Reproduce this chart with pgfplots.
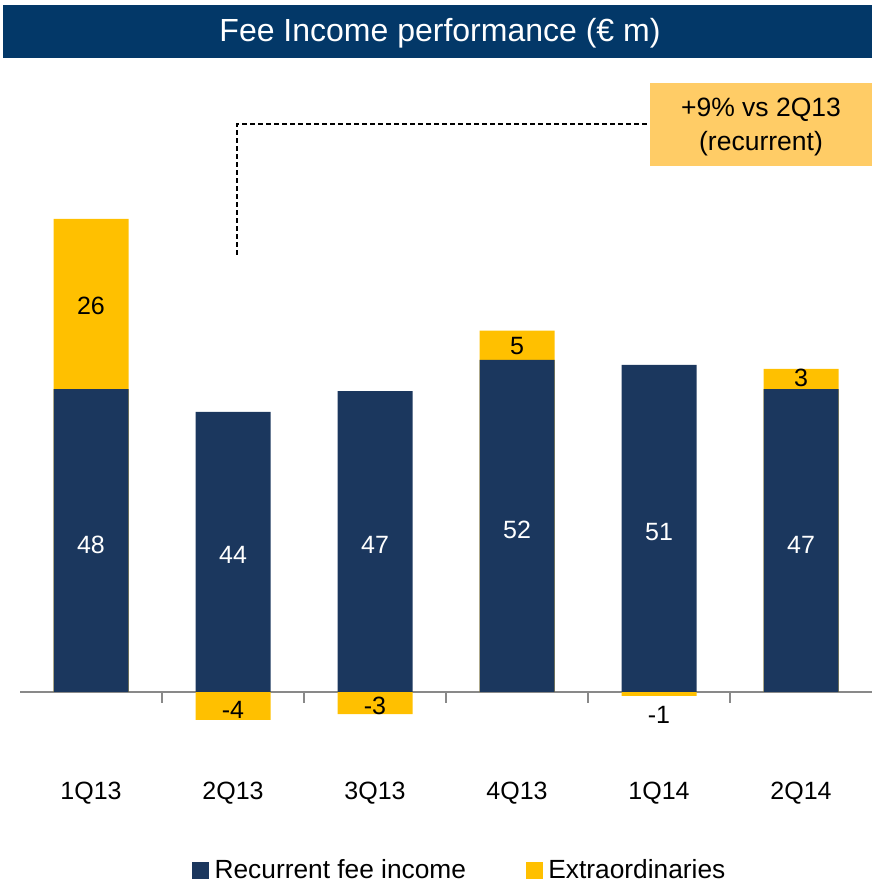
\documentclass[border=0pt]{standalone}
\usepackage{fontspec}
\setmainfont{Liberation Sans}
\usepackage{pgfplots}
\pgfplotsset{compat=1.18}
\definecolor{titleblue}{HTML}{033868}
\definecolor{barnavy}{HTML}{1B375E}
\definecolor{barylw}{HTML}{FFC000}
\definecolor{boxylw}{HTML}{FFCC66}
\definecolor{axgray}{HTML}{898989}
\begin{document}
\begin{tikzpicture}[x=1bp,y=1bp]
\useasboundingbox (0,0) rectangle (872,882);
% title bar
\fill[titleblue] (3,824) rectangle (872,877);
\node[white, font=\fontsize{32bp}{38bp}\selectfont] at (440,849) {Fee Income performance (€ m)};
% annotation box
\fill[boxylw] (650,716) rectangle (872,799);
\node[align=center, font=\fontsize{26.5bp}{34bp}\selectfont] at (761,755) {+9\% vs 2Q13\\(recurrent)};
\draw[black, line width=1.3bp, dash pattern=on 5bp off 3bp] (237,627) -- (237,758) -- (650,758);
\begin{axis}[
  at={(91bp,190bp)}, anchor=origin,
  scale only axis, width=852bp, height=571.5bp,
  xmin=-0.5, xmax=5.5, ymin=-10, ymax=80,
  clip=false,
  hide y axis,
  axis x line=middle,
  x axis line style={draw=axgray, line width=2bp, -},
  xtick={-0.5,0.5,1.5,2.5,3.5,4.5,5.5},
  xticklabels={,,,,,,},
  tick align=outside,
  major tick length=11bp,
  tick style={draw=axgray, line width=1.6bp},
  extra x ticks={0,1,2,3,4,5},
  extra x tick labels={1Q13,2Q13,3Q13,4Q13,1Q14,2Q14},
  extra x tick style={major tick length=0pt},
  xticklabel style={font=\fontsize{25bp}{30bp}\selectfont, anchor=center, yshift=-101bp},
  legend columns=2,
  legend style={at={(axis description cs:0.2019,-0.221)}, anchor=south west, draw=none, fill=none,
    font=\fontsize{26.3bp}{30bp}\selectfont, inner sep=0pt,
    /tikz/every even column/.append style={column sep=58bp}},
]
\addplot[ybar, bar width=75bp, bar shift=0pt, fill=barylw, draw=none, forget plot]
  coordinates {(0,74.5) (1,-4.4) (2,-3.5) (3,56.9) (4,-0.6) (5,50.9)};
\addplot[ybar, bar width=75bp, bar shift=0pt, fill=barnavy, draw=none, forget plot]
  coordinates {(0,47.7) (1,44.1) (2,47.4) (3,52.3) (4,51.5) (5,47.7)};
\addlegendimage{legend image code/.code={\fill[barnavy] (0bp,-9bp) rectangle (16bp,7bp); \path (20bp,0bp);}}
\addlegendentry{Recurrent fee income}
\addlegendimage{legend image code/.code={\fill[barylw] (0bp,-9bp) rectangle (16bp,7bp); \path (20bp,0bp);}}
\addlegendentry{Extraordinaries}
% value labels
\begin{scope}[font=\fontsize{25bp}{30bp}\selectfont]
\node[white] at (axis cs:0,23.1) {48};
\node[white] at (axis cs:1,21.6) {44};
\node[white] at (axis cs:2,23.1) {47};
\node[white] at (axis cs:3,25.5) {52};
\node[white] at (axis cs:4,25.2) {51};
\node[white] at (axis cs:5,23.1) {47};
\node at (axis cs:0,60.8) {26};
\node at (axis cs:1,-2.8) {-4};
\node at (axis cs:2,-2.2) {-3};
\node at (axis cs:3,54.5) {5};
\node at (axis cs:4,-3.6) {-1};
\node at (axis cs:5,49.4) {3};
\end{scope}
\end{axis}
\end{tikzpicture}
\end{document}
